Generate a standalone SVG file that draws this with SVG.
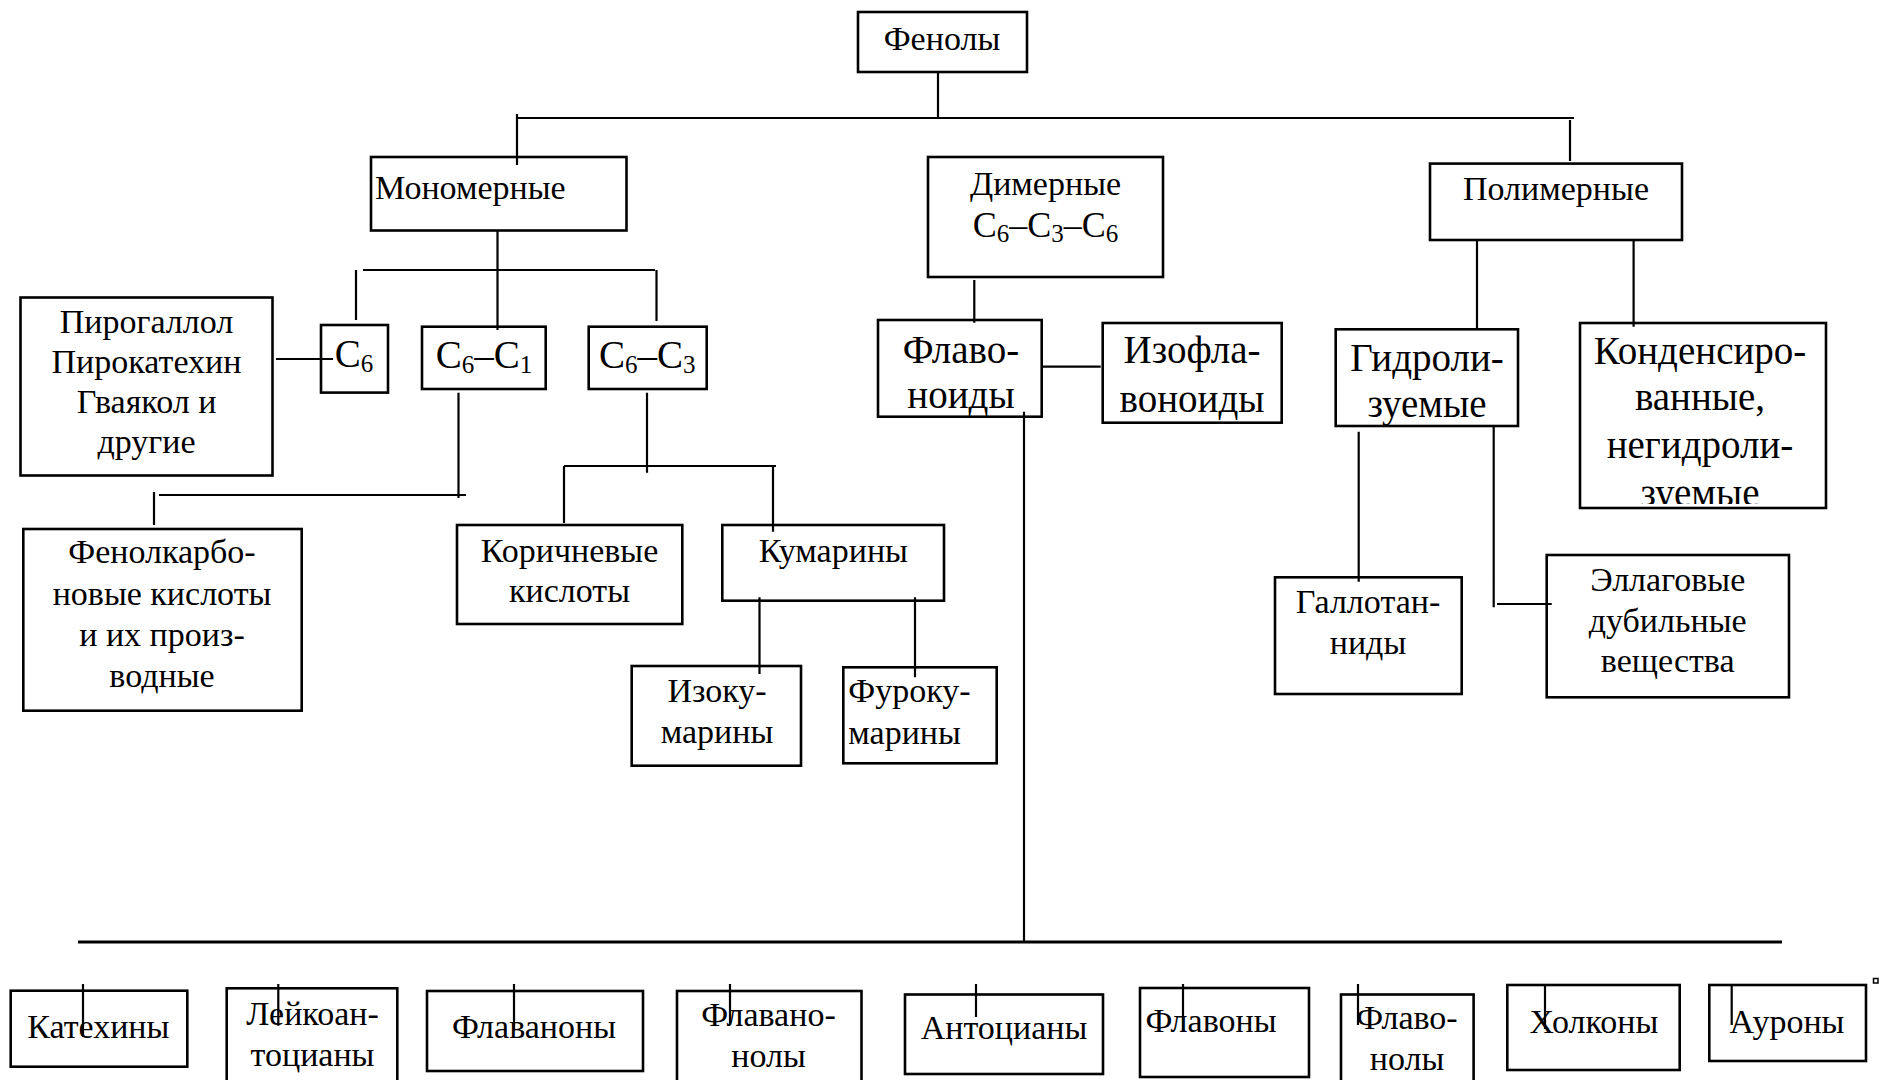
<svg xmlns="http://www.w3.org/2000/svg" width="1881" height="1080" viewBox="0 0 1881 1080">
<style>
.box{fill:none;stroke:#000;stroke-width:2.6}
.ln{stroke:#000;stroke-width:2.2;fill:none}
.t{font-family:"Liberation Serif","Times New Roman",serif;font-size:34px;text-anchor:middle;fill:#000}
.st{text-anchor:start}
.L{font-size:39px}
.s{font-size:25px}
</style>
<defs>
<clipPath id="clipK"><rect x="1580" y="323" width="246" height="181"/></clipPath>
</defs>
<rect width="1881" height="1080" fill="#fff"/>

<g id="n-fenoly"><rect class="box" x="858" y="12" width="169" height="60"/><text class="t" x="942" y="50">Фенолы</text></g>
<g id="n-monomernye"><rect class="box" x="371" y="157" width="255.5" height="73.5"/><text class="t st" x="375" y="199">Мономерные</text></g>
<g id="n-dimernye"><rect class="box" x="928" y="157" width="235" height="120"/><text class="t" x="1045.5" y="195">Димерные</text><text class="t" x="1045.5" y="237" style="font-size:36px">C<tspan class="s" dy="5">6</tspan><tspan dy="-5">–C</tspan><tspan class="s" dy="5">3</tspan><tspan dy="-5">–C</tspan><tspan class="s" dy="5">6</tspan></text></g>
<g id="n-polimernye"><rect class="box" x="1430" y="163.6" width="252" height="76.4"/><text class="t" x="1556" y="200">Полимерные</text></g>

<g id="n-pirogallol"><rect class="box" x="20.5" y="297.5" width="252" height="178"/><text class="t" x="146.5" y="333">Пирогаллол</text><text class="t" x="146.5" y="373">Пирокатехин</text><text class="t" x="146.5" y="413">Гваякол и</text><text class="t" x="146.5" y="453">другие</text></g>
<g id="n-c6"><rect class="box" x="321" y="325" width="67" height="67.6"/><text class="t L" x="354" y="367">C<tspan class="s" dy="5">6</tspan></text></g>
<g id="n-c6c1"><rect class="box" x="422" y="326.7" width="123.7" height="62.3"/><text class="t L" x="484" y="368">C<tspan class="s" dy="5">6</tspan><tspan dy="-5">–C</tspan><tspan class="s" dy="5">1</tspan></text></g>
<g id="n-c6c3"><rect class="box" x="588.7" y="326.7" width="118" height="62.3"/><text class="t L" x="647.2" y="368">C<tspan class="s" dy="5">6</tspan><tspan dy="-5">–C</tspan><tspan class="s" dy="5">3</tspan></text></g>

<g id="n-fenolkarbo"><rect class="box" x="23.3" y="529" width="278.4" height="181.7"/><text class="t" x="162" y="563.3">Фенолкарбо-</text><text class="t" x="162" y="605">новые кислоты</text><text class="t" x="162" y="646">и их произ-</text><text class="t" x="162" y="686.7">водные</text></g>
<g id="n-korichnevye"><rect class="box" x="457" y="525" width="225.3" height="99"/><text class="t" x="569.5" y="562">Коричневые</text><text class="t" x="569.5" y="602">кислоты</text></g>
<g id="n-kumariny"><rect class="box" x="722.3" y="525" width="221.7" height="75.7"/><text class="t" x="833.3" y="561.7">Кумарины</text></g>
<g id="n-izokumariny"><rect class="box" x="631.7" y="666" width="169.3" height="99.7"/><text class="t" x="717" y="701.7">Изоку-</text><text class="t" x="717" y="743.3">марины</text></g>
<g id="n-furokumariny"><rect class="box" x="843.3" y="667.3" width="153.4" height="96"/><text class="t st" x="848.3" y="701.7">Фуроку-</text><text class="t st" x="848.3" y="744.3">марины</text></g>

<g id="n-flavonoidy"><rect class="box" x="878" y="320" width="163.7" height="96.7"/><text class="t L" x="961" y="363">Флаво-</text><text class="t L" x="961" y="408">ноиды</text></g>
<g id="n-izoflavonoidy"><rect class="box" x="1102.7" y="323" width="179" height="99.7"/><text class="t L" x="1192" y="363">Изофла-</text><text class="t L" x="1192" y="411.5">воноиды</text></g>

<g id="n-gidrolizuemye"><rect class="box" x="1335.7" y="329.3" width="182.3" height="96.7"/><text class="t L" x="1427" y="371">Гидроли-</text><text class="t L" x="1427" y="416.7">зуемые</text></g>
<g id="n-kondensirovannye"><rect class="box" x="1580" y="323" width="246" height="185"/><g clip-path="url(#clipK)"><text class="t L" x="1700" y="364.3">Конденсиро-</text><text class="t L" x="1700" y="410">ванные,</text><text class="t L" x="1700" y="458">негидроли-</text><text class="t L" x="1700" y="506">зуемые</text></g></g>
<g id="n-gallotanidy"><rect class="box" x="1275" y="577.3" width="186.7" height="116.7"/><text class="t" x="1368" y="613.3">Галлотан-</text><text class="t" x="1368" y="654">ниды</text></g>
<g id="n-ellagovye"><rect class="box" x="1546.7" y="555" width="242.3" height="142.3"/><text class="t" x="1667.7" y="591">Эллаговые</text><text class="t" x="1667.7" y="631.7">дубильные</text><text class="t" x="1667.7" y="672.3">вещества</text></g>

<g id="n-katehiny"><rect class="box" x="10.7" y="990.7" width="176.6" height="76"/><text class="t" x="98.3" y="1037.7">Катехины</text></g>
<g id="n-leikoantociany"><rect class="box" x="226.7" y="988.3" width="170.6" height="100"/><text class="t" x="312.5" y="1025">Лейкоан-</text><text class="t" x="312.5" y="1066">тоцианы</text></g>
<g id="n-flavanony"><rect class="box" x="427" y="991" width="216" height="80"/><text class="t" x="534" y="1037.6">Флаваноны</text></g>
<g id="n-flavanonoly"><rect class="box" x="677" y="991" width="184.5" height="100"/><text class="t" x="768.5" y="1025.5">Флавано-</text><text class="t" x="768.5" y="1067">нолы</text></g>
<g id="n-antociany"><rect class="box" x="905" y="994.5" width="198" height="79.5"/><text class="t" x="1004" y="1039">Антоцианы</text></g>
<g id="n-flavony"><rect class="box" x="1140" y="988" width="169" height="89"/><text class="t" x="1211" y="1032.4">Флавоны</text></g>
<g id="n-flavonoly"><rect class="box" x="1341" y="994.5" width="132.6" height="100"/><text class="t" x="1407" y="1029">Флаво-</text><text class="t" x="1407" y="1070">нолы</text></g>
<g id="n-holkony"><rect class="box" x="1507.3" y="985" width="172.4" height="85"/><text class="t" x="1594" y="1032.7">Холконы</text></g>
<g id="n-aurony"><rect class="box" x="1709.3" y="985" width="156.7" height="76"/><text class="t" x="1787" y="1032.7">Ауроны</text></g>
<rect x="1873.5" y="978.5" width="4.5" height="4.5" fill="none" stroke="#000" stroke-width="1.5"/>

<g id="connectors">
<path class="ln" d="M938 72V118M517 118H1574M517 114V165M1570 120V161"/>
<path class="ln" d="M497.5 231V330M363 270H655M356 270V320M656.5 270V321"/>
<path class="ln" d="M276 359H333"/>
<path class="ln" d="M458.5 392.7V498M159 495H466M154 492V525"/>
<path class="ln" d="M647 392.7V472.7M564 466H776M564 466V523M773 466V531.7"/>
<path class="ln" d="M759.5 597.3V674M915 597.3V677.3"/>
<path class="ln" d="M974.3 280V322.7M1041 366.7H1100.7M1024 411.7V942"/>
<path class="ln" d="M1477 240V329M1633.6 240V326.7"/>
<path class="ln" d="M1358.7 431.7V581.7M1493.7 426V607.3M1497 604H1551.7"/>
<path class="ln" d="M78 942H1782" style="stroke-width:2.8"/>
<path class="ln" d="M83 984V1037M278.3 984V1025.7M514 984V1031M730 984V1025M976 984V1017M1183 984V1031M1358 984V1025M1545 984V1029M1731.7 985V1025"/>
</g>
</svg>
